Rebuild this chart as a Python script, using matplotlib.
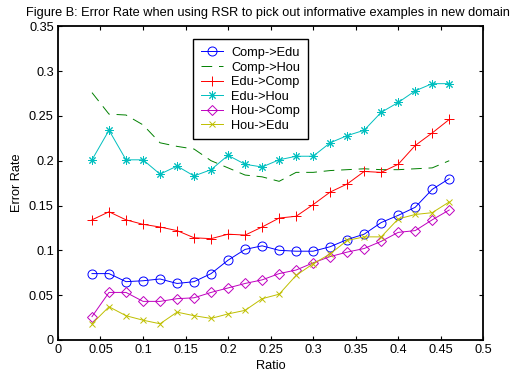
import numpy as np
import matplotlib
matplotlib.use("Agg")
from matplotlib import pyplot as plt
from matplotlib.ticker import FuncFormatter, MultipleLocator

plt.rcParams["font.family"] = ["Liberation Sans", "DejaVu Sans"]
FS = 9.2
plt.rcParams["font.size"] = FS

# Ratio values (x) shared by all series
ratio = [0.04, 0.06, 0.08, 0.10, 0.12, 0.14, 0.16, 0.18, 0.20, 0.22, 0.24,
         0.26, 0.28, 0.30, 0.32, 0.34, 0.36, 0.38, 0.40, 0.42, 0.44, 0.46]

comp_edu = [0.074, 0.074, 0.065, 0.066, 0.068, 0.063, 0.065, 0.074, 0.089, 0.101, 0.105,
            0.100, 0.099, 0.099, 0.104, 0.112, 0.118, 0.131, 0.139, 0.148, 0.168, 0.180]
comp_hou = [0.276, 0.252, 0.251, 0.240, 0.220, 0.216, 0.213, 0.200, 0.192, 0.184, 0.182,
            0.177, 0.187, 0.187, 0.189, 0.190, 0.191, 0.190, 0.190, 0.191, 0.192, 0.200]
edu_comp = [0.134, 0.143, 0.134, 0.129, 0.126, 0.122, 0.114, 0.113, 0.118, 0.117, 0.126,
            0.136, 0.138, 0.151, 0.165, 0.174, 0.188, 0.187, 0.196, 0.217, 0.231, 0.246]
edu_hou = [0.201, 0.234, 0.201, 0.201, 0.185, 0.194, 0.183, 0.190, 0.206, 0.196, 0.193,
           0.201, 0.205, 0.205, 0.220, 0.228, 0.234, 0.254, 0.265, 0.278, 0.286, 0.286]
hou_comp = [0.026, 0.053, 0.053, 0.043, 0.043, 0.046, 0.047, 0.053, 0.058, 0.063, 0.067,
            0.074, 0.078, 0.086, 0.093, 0.098, 0.102, 0.110, 0.120, 0.122, 0.134, 0.145]
hou_edu = [0.018, 0.037, 0.027, 0.022, 0.018, 0.031, 0.027, 0.024, 0.029, 0.033, 0.046,
           0.051, 0.072, 0.085, 0.096, 0.111, 0.115, 0.115, 0.135, 0.140, 0.142, 0.154]

labels = ["Comp->Edu", "Comp->Hou", "Edu->Comp", "Edu->Hou", "Hou->Comp", "Hou->Edu"]

fig = plt.figure(figsize=(5.13, 3.76), dpi=100)
ax = fig.add_axes([0.113, 0.096, 0.829, 0.834])

lw = 0.7
mew = 0.7
ax.plot(ratio, comp_edu, color="#0000ff", marker="o", markersize=6.5,
        markerfacecolor="none", markeredgewidth=mew, linewidth=lw, label=labels[0])
ax.plot(ratio, comp_hou, color="#008000", linestyle=(0, (11, 7)),
        linewidth=lw, label=labels[1])
ax.plot(ratio, edu_comp, color="#ff0000", marker="+", markersize=7,
        markeredgewidth=mew, linewidth=lw, label=labels[2])
ax.plot(ratio, edu_hou, color="#00bfbf", marker=(8, 2, 0), markersize=6,
        markeredgewidth=mew, linewidth=lw, label=labels[3])
ax.plot(ratio, hou_comp, color="#bf00bf", marker="D", markersize=5,
        markerfacecolor="none", markeredgewidth=mew, linewidth=lw, label=labels[4])
ax.plot(ratio, hou_edu, color="#bfbf00", marker="x", markersize=4,
        markeredgewidth=mew, linewidth=lw, label=labels[5])

ax.set_xlim(0, 0.5)
ax.set_ylim(0, 0.35)
ax.xaxis.set_major_locator(MultipleLocator(0.05))
ax.yaxis.set_major_locator(MultipleLocator(0.05))
fmt = FuncFormatter(lambda v, p: "%g" % round(v, 2))
ax.xaxis.set_major_formatter(fmt)
ax.yaxis.set_major_formatter(fmt)
ax.tick_params(direction="in", top=True, right=True, length=3, width=0.8,
               labelsize=FS, pad=3)
for s in ax.spines.values():
    s.set_linewidth(1.3)

ax.set_xlabel("Ratio", fontsize=FS, labelpad=3)
ax.set_ylabel("Error Rate", fontsize=FS, labelpad=4)
fig.text(0.522, 0.966, "Figure B: Error Rate when using RSR to pick out informative examples in new domain",
         ha="center", va="center", fontsize=FS)

leg = ax.legend(loc="upper left", bbox_to_anchor=(0.3176, 0.9586), borderaxespad=0,
                fancybox=False, edgecolor="black", framealpha=1, fontsize=FS,
                handlelength=1.75, handletextpad=0.65, labelspacing=0.2, borderpad=0.6)
leg.get_frame().set_linewidth(1.0)

fig.savefig("out.png", dpi=100)
